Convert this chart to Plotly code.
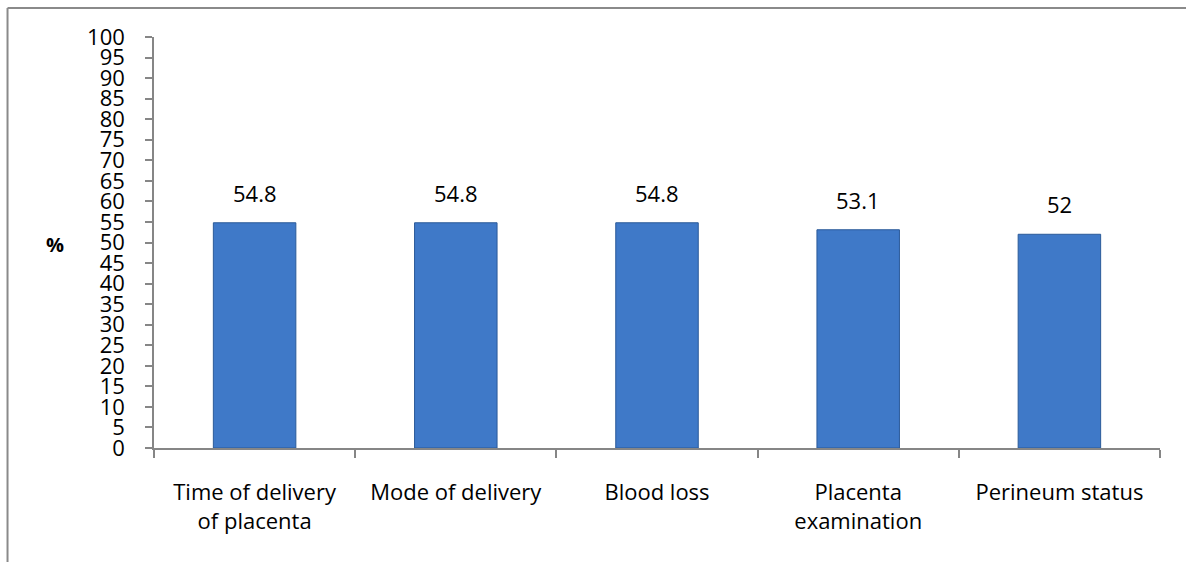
import plotly.graph_objects as go

# Items assessed and the share (%) for each
categories = [
    "Time of delivery<br>of placenta",
    "Mode of delivery",
    "Blood loss",
    "Placenta<br>examination",
    "Perineum status",
]
percentages = [54.8, 54.8, 54.8, 53.1, 52]
y_ticks = list(range(0, 101, 5))

FONT = "Open Sans"
AXIS_GREY = "#868686"

fig = go.Figure(
    go.Bar(
        x=categories,
        y=percentages,
        width=0.41,
        marker=dict(color="#3f79c8", line=dict(color="#2b5a99", width=1)),
        hoverinfo="x+y",
    )
)

# Value labels above each bar
for cat, val in zip(categories, percentages):
    fig.add_annotation(
        x=cat, y=val, text=f"{val:g}", showarrow=False,
        yanchor="bottom", yshift=13,
        font=dict(family=FONT, size=22, color="black"),
    )

# "%" axis caption
fig.add_annotation(
    xref="paper", yref="paper", x=-0.098, y=0.495,
    xanchor="center", yanchor="middle",
    text="<b>%</b>", showarrow=False,
    font=dict(family=FONT, size=20, color="black"),
)

# Frame around the chart area
fig.add_shape(type="line", xref="paper", yref="paper",
              x0=-0.1456, y0=1.0706, x1=1.05, y1=1.0706,
              line=dict(color="#8a8a8a", width=2))
fig.add_shape(type="line", xref="paper", yref="paper",
              x0=-0.1456, y0=1.0706, x1=-0.1456, y1=-0.35,
              line=dict(color="#8a8a8a", width=2))

fig.update_layout(
    width=1186, height=562,
    margin=dict(l=154, r=26, t=37, b=114),
    paper_bgcolor="white", plot_bgcolor="white",
    showlegend=False,
    font=dict(family=FONT, size=22, color="black"),
    xaxis=dict(
        showline=True, linecolor=AXIS_GREY, linewidth=1.5,
        ticks="outside", tickson="boundaries", ticklen=8,
        tickcolor=AXIS_GREY, tickwidth=1.5,
        showgrid=False, zeroline=False,
        ticklabelstandoff=24,
        tickfont=dict(family=FONT, size=22, color="black"),
    ),
    yaxis=dict(
        range=[0, 100], tickvals=y_ticks, ticktext=[str(t) for t in y_ticks],
        showline=True, linecolor=AXIS_GREY, linewidth=1.5,
        ticks="outside", ticklen=7, tickcolor=AXIS_GREY, tickwidth=1.5,
        showgrid=False, zeroline=False,
        ticklabelstandoff=16,
        tickfont=dict(family=FONT, size=22, color="black"),
    ),
)

fig.write_html("out.html")
